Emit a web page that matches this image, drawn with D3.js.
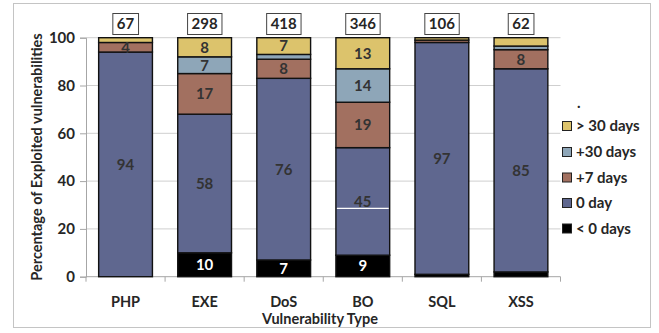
<!DOCTYPE html>
<html>
<head>
<meta charset="utf-8">
<script src="https://cdn.jsdelivr.net/npm/d3@7"></script>
<style>
  html, body { margin: 0; padding: 0; background: #fff; }
  svg { display: block; font-family: Lato, "Open Sans", sans-serif; font-weight: bold; }
</style>
</head>
<body>
<svg id="chart" width="659" height="333"></svg>
<script>
// Vulnerability types and the number of exploits behind each stack
const categories = ["PHP", "EXE", "DoS", "BO", "SQL", "XSS"];
const totals = [67, 298, 418, 346, 106, 62];

// Series, bottom to top, percentage of exploited vulnerabilities
const seriesNames = ["< 0 days", "0 day", "+7 days", "+30 days", "> 30 days"];
const lessThanZero = [0, 10, 7, 9, 1, 2];
const zeroDay = [94, 58, 76, 45, 97, 85];
const plusSeven = [4, 17, 8, 19, 1, 8];
const plusThirty = [0, 7, 2, 14, 0, 1.5];
const overThirty = [2, 8, 7, 13, 1, 3.5];

const yTicks = [0, 20, 40, 60, 80, 100];
const colors = ["#000000", "#5f678f", "#a27060", "#8ea6b8", "#dcc36c"];

const seriesValues = [lessThanZero, zeroDay, plusSeven, plusThirty, overThirty];
const rows = categories.map((c, i) => {
  const r = { cat: c };
  seriesNames.forEach((s, k) => { r[s] = seriesValues[k][i]; });
  return r;
});

const svg = d3.select("#chart");

// outer frame
svg.append("rect")
  .attr("x", 13.5).attr("y", 3.5).attr("width", 637).attr("height", 324)
  .attr("fill", "none").attr("stroke", "#c4c4c4").attr("stroke-width", 1);

const x = d3.scaleBand().domain(categories).range([86, 560.5]).paddingInner(0.32).paddingOuter(0.16);
const y = d3.scaleLinear().domain([0, 100]).range([276.7, 37.7]);

// gridlines
svg.append("g").selectAll("line").data(yTicks.filter(t => t > 0)).join("line")
  .attr("x1", 86).attr("x2", 560.5)
  .attr("y1", d => y(d)).attr("y2", d => y(d))
  .attr("stroke", "#cfcfcf").attr("stroke-width", 1);

// y axis
const yAxis = svg.append("g").attr("transform", "translate(86,0)")
  .call(d3.axisLeft(y).tickValues(yTicks).tickSize(6).tickPadding(5));
yAxis.select(".domain").attr("stroke", "#a6a6a6");
yAxis.selectAll(".tick line").attr("stroke", "#a6a6a6");
yAxis.selectAll(".tick text")
  .attr("font-size", 15).attr("font-family", "Lato, sans-serif").attr("font-weight", "bold")
  .attr("fill", "#262626");

// x axis: tick marks at category boundaries
const step = x.step();
const bounds = d3.range(categories.length + 1).map(i => 86 + i * step);
svg.append("line")
  .attr("x1", 86).attr("x2", 560.5).attr("y1", y(0)).attr("y2", y(0))
  .attr("stroke", "#a6a6a6");
svg.append("g").selectAll("line").data(bounds).join("line")
  .attr("x1", d => d).attr("x2", d => d)
  .attr("y1", y(0)).attr("y2", y(0) + 5)
  .attr("stroke", "#a6a6a6");
svg.append("g").selectAll("text").data(categories).join("text")
  .attr("x", d => x(d) + x.bandwidth() / 2).attr("y", 306.5)
  .attr("text-anchor", "middle").attr("font-size", 14.5).attr("fill", "#262626")
  .text(d => d);

// stacked bars
const stack = d3.stack().keys(seriesNames);
const layers = stack(rows);

const gLayers = svg.append("g").selectAll("g").data(layers).join("g")
  .attr("fill", (d, i) => colors[i]);
gLayers.selectAll("rect").data(d => d.filter(p => p[1] - p[0] > 0)).join("rect")
  .attr("x", p => x(p.data.cat))
  .attr("width", x.bandwidth())
  .attr("y", p => y(p[1]))
  .attr("height", p => y(p[0]) - y(p[1]))
  .attr("stroke", "#111").attr("stroke-width", 1.4);

// thin white rule across the BO 0-day segment
const boRule = 28.6;
svg.append("line")
  .attr("x1", x("BO") + 1).attr("x2", x("BO") + x.bandwidth() - 1)
  .attr("y1", y(boRule)).attr("y2", y(boRule))
  .attr("stroke", "#fff").attr("stroke-width", 1.3);

// segment labels
layers.forEach((layer, i) => {
  svg.append("g").selectAll("text").data(layer.filter(p => p[1] - p[0] >= 4)).join("text")
    .attr("x", p => x(p.data.cat) + x.bandwidth() / 2)
    .attr("y", p => y((p[0] + p[1]) / 2))
    .attr("dy", "0.36em")
    .attr("text-anchor", "middle").attr("font-size", 15)
    .attr("fill", i === 0 ? "#ffffff" : "#333333")
    .text(p => p[1] - p[0]);
});

// totals above each bar, boxed
const gTot = svg.append("g").selectAll("g").data(categories).join("g")
  .attr("transform", d => `translate(${x(d) + x.bandwidth() / 2},24)`);
gTot.append("text")
  .attr("text-anchor", "middle").attr("dy", "0.36em").attr("font-size", 15)
  .attr("fill", "#262626")
  .text((d, i) => totals[i]);
gTot.each(function () {
  const g = d3.select(this);
  const bb = g.select("text").node().getBBox();
  g.insert("rect", "text")
    .attr("x", bb.x - 4).attr("y", -10.5)
    .attr("width", bb.width + 8).attr("height", 21)
    .attr("fill", "#fff").attr("stroke", "#444").attr("stroke-width", 1);
});

// axis titles
svg.append("text")
  .attr("transform", "translate(37,157) rotate(-90)")
  .attr("text-anchor", "middle").attr("dy", "0.36em").attr("font-size", 14.5)
  .attr("fill", "#262626")
  .text("Percentage of Exploited vulnerabilities");
svg.append("text")
  .attr("x", 320).attr("y", 323.5)
  .attr("text-anchor", "middle").attr("font-size", 14.5).attr("fill", "#262626")
  .text("Vulnerability Type");

// legend, top entry first
const legendItems = seriesNames.slice().reverse();
const legendY = [126, 152, 177.5, 203, 228.5];
svg.append("text").attr("x", 577).attr("y", 103).attr("dy", "0.36em")
  .attr("font-size", 15).attr("fill", "#262626").text(".");
const gLeg = svg.append("g").selectAll("g").data(legendItems).join("g")
  .attr("transform", (d, i) => `translate(562,${legendY[i]})`);
gLeg.append("rect")
  .attr("x", 0.5).attr("y", -4.5).attr("width", 9).attr("height", 9)
  .attr("fill", d => colors[seriesNames.indexOf(d)])
  .attr("stroke", "#222").attr("stroke-width", 1);
gLeg.append("text")
  .attr("x", 14).attr("dy", "0.36em").attr("font-size", 15).attr("fill", "#262626")
  .text(d => d);
</script>
</body>
</html>
